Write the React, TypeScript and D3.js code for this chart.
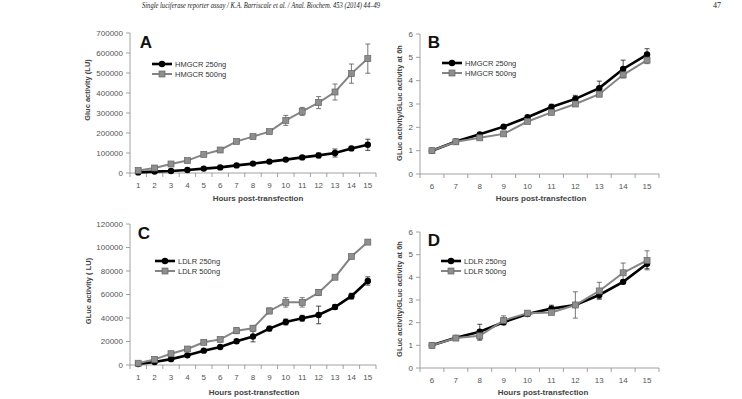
import React from "react";
import * as d3 from "d3";

// hours post-transfection
const hoursAC = [1, 2, 3, 4, 5, 6, 7, 8, 9, 10, 11, 12, 13, 14, 15];
const hoursBD = [6, 7, 8, 9, 10, 11, 12, 13, 14, 15];

// A: HMGCR raw Gluc activity (LU)
const hmgcr250 = [3000, 7000, 10000, 15000, 22000, 28000, 38000, 47000, 57000, 67000, 78000, 88000, 100000, 123000, 141000];
const hmgcr250Err = [2000, 2000, 2000, 2000, 3000, 3000, 4000, 4000, 5000, 5000, 8000, 12000, 20000, 10000, 28000];
const hmgcr500 = [13000, 25000, 45000, 62000, 93000, 115000, 158000, 182000, 207000, 263000, 308000, 352000, 405000, 497000, 572000];
const hmgcr500Err = [4000, 5000, 5000, 5000, 6000, 7000, 8000, 10000, 8000, 25000, 20000, 30000, 40000, 48000, 73000];

// B: HMGCR normalised to 6h
const hmgcrN250 = [1.0, 1.39, 1.7, 2.03, 2.43, 2.87, 3.22, 3.68, 4.5, 5.12];
const hmgcrN250Err = [0.02, 0.05, 0.05, 0.05, 0.07, 0.12, 0.15, 0.3, 0.38, 0.25];
const hmgcrN500 = [1.0, 1.38, 1.55, 1.72, 2.25, 2.64, 3.0, 3.42, 4.25, 4.88];
const hmgcrN500Err = [0.02, 0.04, 0.05, 0.05, 0.06, 0.07, 0.08, 0.1, 0.1, 0.15];

// C: LDLR raw Gluc activity (LU)
const ldlr250 = [800, 2500, 5000, 8200, 12200, 15300, 20200, 24200, 31000, 36600, 39800, 42600, 49300, 58600, 71500];
const ldlr250Err = [500, 600, 700, 800, 900, 1000, 1500, 4500, 2000, 2500, 2500, 7500, 2000, 2500, 3500];
const ldlr500 = [1500, 4800, 9600, 13600, 19300, 21800, 29200, 31300, 46000, 53300, 53300, 61600, 74700, 92300, 104600];
const ldlr500Err = [500, 700, 800, 900, 1000, 1200, 2500, 2000, 2500, 4000, 4000, 2500, 1500, 1500, 1500];

// D: LDLR normalised to 6h
const ldlrN250 = [1.0, 1.33, 1.6, 2.02, 2.38, 2.62, 2.78, 3.22, 3.8, 4.6];
const ldlrN250Err = [0.02, 0.04, 0.33, 0.1, 0.1, 0.15, 0.1, 0.15, 0.08, 0.22];
const ldlrN500 = [1.0, 1.32, 1.42, 2.1, 2.42, 2.45, 2.78, 3.4, 4.2, 4.75];
const ldlrN500Err = [0.02, 0.04, 0.2, 0.2, 0.08, 0.08, 0.58, 0.38, 0.43, 0.42];

const ticksA = [0, 100000, 200000, 300000, 400000, 500000, 600000, 700000];
const ticksC = [0, 20000, 40000, 60000, 80000, 100000, 120000];
const ticksRatio = [0, 1, 2, 3, 4, 5, 6];

const AXIS = "#8a8a8a";
const LABEL = "#555";
const GREY = "#858585";
const FONT = "'Liberation Sans', Arial, sans-serif";

type Series = { name: string; values: number[]; err: number[] };

type PanelProps = {
  letter: string;
  hours: number[];
  low: Series;
  high: Series;
  yMax: number;
  yTicks: number[];
  yTitle: string;
  left: number;
  right: number;
  top: number;
  bottom: number;
  yTitleX: number;
  yTitleY: number;
  xTitleX: number;
  xTitleY: number;
  letterX: number;
  letterY: number;
  legX: number;
  legY: number;
};

function Panel(p: PanelProps) {
  const x = d3
    .scalePoint<number>()
    .domain(p.hours)
    .range([p.left, p.right])
    .padding(0.5);
  const step = x.step();
  const y = d3.scaleLinear().domain([0, p.yMax]).range([p.bottom, p.top]);
  const line = d3
    .line<number>()
    .x((_, i) => x(p.hours[i]) as number)
    .y((d) => y(d));

  const errBars = (s: Series, color: string) =>
    s.values.map((v, i) => {
      const cx = x(p.hours[i]) as number;
      const y1 = y(v + s.err[i]);
      const y2 = y(Math.max(0, v - s.err[i]));
      return (
        <g key={i} stroke={color} strokeWidth={0.8}>
          <line x1={cx} x2={cx} y1={y1} y2={y2} />
          <line x1={cx - 2.5} x2={cx + 2.5} y1={y1} y2={y1} />
          <line x1={cx - 2.5} x2={cx + 2.5} y1={y2} y2={y2} />
        </g>
      );
    });

  const boundaries = d3.range(p.hours.length + 1).map((i) => p.left + i * step);

  return (
    <g fontFamily={FONT}>
      {/* axes */}
      <line x1={p.left} x2={p.left} y1={p.top} y2={p.bottom} stroke={AXIS} strokeWidth={0.8} />
      <line x1={p.left} x2={p.right} y1={p.bottom} y2={p.bottom} stroke={AXIS} strokeWidth={0.8} />
      {p.yTicks.map((t) => (
        <g key={t}>
          <line x1={p.left - 4} x2={p.left} y1={y(t)} y2={y(t)} stroke={AXIS} strokeWidth={0.8} />
          <text x={p.left - 7} y={y(t) + 2.8} textAnchor="end" fontSize={8} fill={LABEL}>
            {t}
          </text>
        </g>
      ))}
      {boundaries.map((bx, i) => (
        <line key={i} x1={bx} x2={bx} y1={p.bottom} y2={p.bottom + 4} stroke={AXIS} strokeWidth={0.8} />
      ))}
      {p.hours.map((h) => (
        <text key={h} x={x(h)} y={p.bottom + 15} textAnchor="middle" fontSize={8} fill={LABEL}>
          {h}
        </text>
      ))}
      <text x={p.xTitleX} y={p.xTitleY} textAnchor="middle" fontSize={8} fontWeight="bold" fill="#444">
        {"Hours  post-transfection"}
      </text>
      <text
        transform={`translate(${p.yTitleX},${p.yTitleY}) rotate(-90)`}
        textAnchor="middle"
        fontSize={7.5}
        fontWeight="bold"
        fill="#444"
      >
        {p.yTitle}
      </text>
      <text x={p.letterX} y={p.letterY} textAnchor="middle" fontSize={17} fontWeight="bold" fill="#111">
        {p.letter}
      </text>

      {/* legend */}
      <g>
        <line x1={p.legX} x2={p.legX + 20} y1={p.legY} y2={p.legY} stroke="#000" strokeWidth={2.6} />
        <circle cx={p.legX + 10} cy={p.legY} r={3.2} fill="#000" />
        <text x={p.legX + 23} y={p.legY + 2.8} fontSize={7.5} fill="#333">
          {p.low.name}
        </text>
        <line x1={p.legX} x2={p.legX + 20} y1={p.legY + 10} y2={p.legY + 10} stroke={GREY} strokeWidth={2} />
        <rect x={p.legX + 7} y={p.legY + 7} width={6} height={6} fill="#8e8e8e" stroke="#666" strokeWidth={0.7} />
        <text x={p.legX + 23} y={p.legY + 12.8} fontSize={7.5} fill="#333">
          {p.high.name}
        </text>
      </g>

      {/* low dose series (black) drawn under grey in A/C, both with error bars */}
      {errBars(p.high, "#555")}
      {errBars(p.low, "#222")}
      <path d={line(p.low.values) || ""} fill="none" stroke="#000" strokeWidth={2.6} />
      {p.low.values.map((v, i) => (
        <circle key={i} cx={x(p.hours[i])} cy={y(v)} r={3.2} fill="#000" />
      ))}
      <path d={line(p.high.values) || ""} fill="none" stroke={GREY} strokeWidth={2} />
      {p.high.values.map((v, i) => (
        <rect
          key={i}
          x={(x(p.hours[i]) as number) - 3}
          y={y(v) - 3}
          width={6}
          height={6}
          fill="#8e8e8e"
          stroke="#666"
          strokeWidth={0.7}
        />
      ))}
    </g>
  );
}

export default function App() {
  return (
    <svg width={742} height={399} style={{ position: "absolute", left: 0, top: 0, background: "#fff" }}>
      <rect width={742} height={399} fill="#fff" />
      <text
        x={261}
        y={8}
        textAnchor="middle"
        fontSize={8}
        fontStyle="italic"
        fontFamily="'Liberation Sans Narrow', 'Liberation Serif', serif"
        fill="#222"
        textLength={238}
        lengthAdjust="spacingAndGlyphs"
      >
        {"Single luciferase reporter assay / K.A. Barriscale et al. / Anal. Biochem. 453 (2014) 44–49"}
      </text>
      <text x={717} y={8} textAnchor="middle" fontSize={8} fontFamily="'Liberation Sans Narrow', serif" fill="#222">
        47
      </text>

      <Panel
        letter="A"
        hours={hoursAC}
        low={{ name: "HMGCR 250ng", values: hmgcr250, err: hmgcr250Err }}
        high={{ name: "HMGCR 500ng", values: hmgcr500, err: hmgcr500Err }}
        yMax={700000}
        yTicks={ticksA}
        yTitle="Gluc activity (LU)"
        left={130}
        right={376}
        top={33}
        bottom={173}
        yTitleX={90}
        yTitleY={90}
        xTitleX={258}
        xTitleY={201}
        letterX={146}
        letterY={48}
        legX={152}
        legY={64}
      />
      <Panel
        letter="B"
        hours={hoursBD}
        low={{ name: "HMGCR 250ng", values: hmgcrN250, err: hmgcrN250Err }}
        high={{ name: "HMGCR 500ng", values: hmgcrN500, err: hmgcrN500Err }}
        yMax={6}
        yTicks={ticksRatio}
        yTitle="GLuc activity/GLuc activity at 6h"
        left={420}
        right={659}
        top={34}
        bottom={174}
        yTitleX={402}
        yTitleY={103}
        xTitleX={541}
        xTitleY={201}
        letterX={434}
        letterY={48}
        legX={442}
        legY={63}
      />
      <Panel
        letter="C"
        hours={hoursAC}
        low={{ name: "LDLR 250ng", values: ldlr250, err: ldlr250Err }}
        high={{ name: "LDLR 500ng", values: ldlr500, err: ldlr500Err }}
        yMax={120000}
        yTicks={ticksC}
        yTitle="GLuc activity ( LU)"
        left={130}
        right={376}
        top={224}
        bottom={365}
        yTitleX={91}
        yTitleY={291}
        xTitleX={254}
        xTitleY={395}
        letterX={144}
        letterY={239}
        legX={155}
        legY={261}
      />
      <Panel
        letter="D"
        hours={hoursBD}
        low={{ name: "LDLR 250ng", values: ldlrN250, err: ldlrN250Err }}
        high={{ name: "LDLR 500ng", values: ldlrN500, err: ldlrN500Err }}
        yMax={6}
        yTicks={ticksRatio}
        yTitle="GLuc activity/GLuc activity at 6h"
        left={420}
        right={659}
        top={232}
        bottom={368}
        yTitleX={402}
        yTitleY={299}
        xTitleX={543}
        xTitleY={395}
        letterX={434}
        letterY={246}
        legX={441}
        legY={261}
      />
    </svg>
  );
}
